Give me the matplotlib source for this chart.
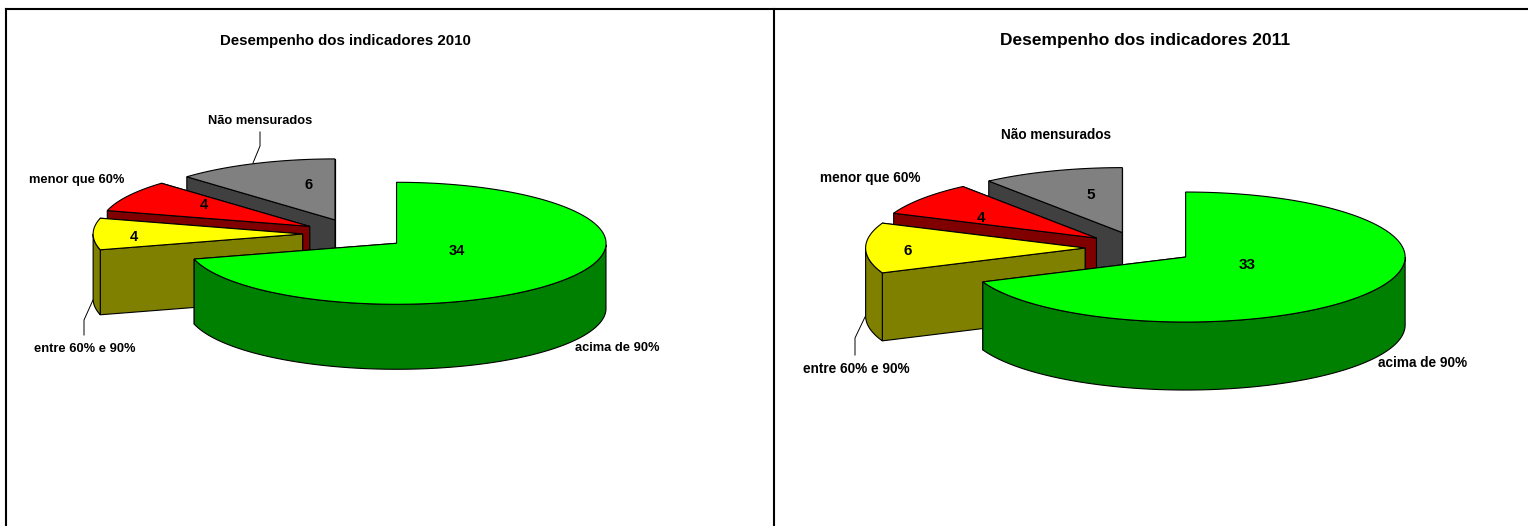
import numpy as np
import matplotlib
matplotlib.use("Agg")
import matplotlib.pyplot as plt
from matplotlib.patches import Polygon

plt.rcParams['font.family'] = ['Liberation Sans', 'DejaVu Sans']

categories = ["acima de 90%", "entre 60% e 90%", "menor que 60%", "Não mensurados"]
values_2010 = [34, 4, 4, 6]
values_2011 = [33, 6, 4, 5]
title_2010 = "Desempenho dos indicadores 2010"
title_2011 = "Desempenho dos indicadores 2011"

top_colors = ["#00FF00", "#FFFF00", "#FF0000", "#808080"]
side_colors = ["#008000", "#808000", "#800000", "#404040"]
EXPLODE = 0.25
EDGE = 0.8

fig = plt.figure(figsize=(15.28, 5.26), dpi=100)
ax = fig.add_axes([0, 0, 1, 1])
ax.set_xlim(0, 1528)
ax.set_ylim(526, 0)
ax.axis("off")


def pt(cx, cy, a, b, t):
    return cx + a * np.sin(t), cy - b * np.cos(t)


def draw_wedge(cx, cy, a, b, depth, t0, t1, top, side, z):
    mid = (t0 + t1) / 2
    ax0, ay0 = pt(cx, cy, a * EXPLODE, b * EXPLODE, mid)
    ts = np.linspace(t0, t1, 160)
    xs, ys = pt(ax0, ay0, a, b, ts)
    # radial cut faces
    for t in (t1, t0):
        x, y = pt(ax0, ay0, a, b, t)
        ax.add_patch(Polygon([(ax0, ay0), (x, y), (x, y + depth), (ax0, ay0 + depth)],
                             closed=True, fc=side, ec="black", lw=EDGE, zorder=z))
    # outer rim (only the part facing the viewer)
    front = (ts >= np.pi / 2) & (ts <= 3 * np.pi / 2)
    if front.any():
        fx, fy = xs[front], ys[front]
        poly = np.r_[np.c_[fx, fy], np.c_[fx[::-1], fy[::-1] + depth]]
        ax.add_patch(Polygon(poly, closed=True, fc=side, ec="black", lw=EDGE, zorder=z + 0.1))
    # top face
    poly = np.r_[[(ax0, ay0)], np.c_[xs, ys]]
    ax.add_patch(Polygon(poly, closed=True, fc=top, ec="black", lw=EDGE, zorder=z + 0.2))


def draw_pie(values, cx, cy, a, b, depth):
    vals = np.asarray(values, float)
    edges = np.r_[0, np.cumsum(vals)] / vals.sum() * 2 * np.pi
    for i in (3, 2, 1, 0):
        draw_wedge(cx, cy, a, b, depth, edges[i], edges[i + 1],
                   top_colors[i], side_colors[i], 2 + (3 - i))


draw_pie(values_2010, 355, 234, 209.5, 61, 65)
draw_pie(values_2011, 1140, 248, 219.5, 65, 68)

# frame
for xs_, ys_ in [((6, 6), (526, 9)), ((6, 1528), (9, 9)), ((774, 774), (9, 526))]:
    ax.plot(xs_, ys_, color="black", lw=1.5, solid_capstyle="projecting", zorder=20)

# leader lines
leaders = [
    [(260, 132), (260, 146), (253, 163)],
    [(93, 300), (84, 320), (84, 335)],
    [(865, 317), (855, 338), (855, 355)],
]
for line in leaders:
    lx, ly = zip(*line)
    ax.plot(lx, ly, color="black", lw=0.7, zorder=12)


def txt(x, y, s, size):
    ax.text(x, y + 1, s, ha="center", va="center", fontsize=size,
            fontweight="bold", color="black", zorder=15)


txt(345.5, 40, title_2010, 10.8)
txt(1145, 40, title_2011, 12.5)

for (x, y), s in zip([(617, 347), (84.5, 348), (76.5, 179), (260, 120)], categories):
    txt(x, y, s, 9.3)
for (x, y), s in zip([(1423, 362), (856, 368), (870.5, 177), (1056, 134)], categories):
    txt(x, y, s, 9.8)
for (x, y), v in zip([(457, 250), (134, 236), (204, 204), (309, 184)], values_2010):
    txt(x, y, str(v), 10.5)
for (x, y), v in zip([(1247, 264), (908, 250), (981, 217), (1091, 194)], values_2011):
    txt(x, y, str(v), 11)

fig.savefig("out.png", dpi=100)
